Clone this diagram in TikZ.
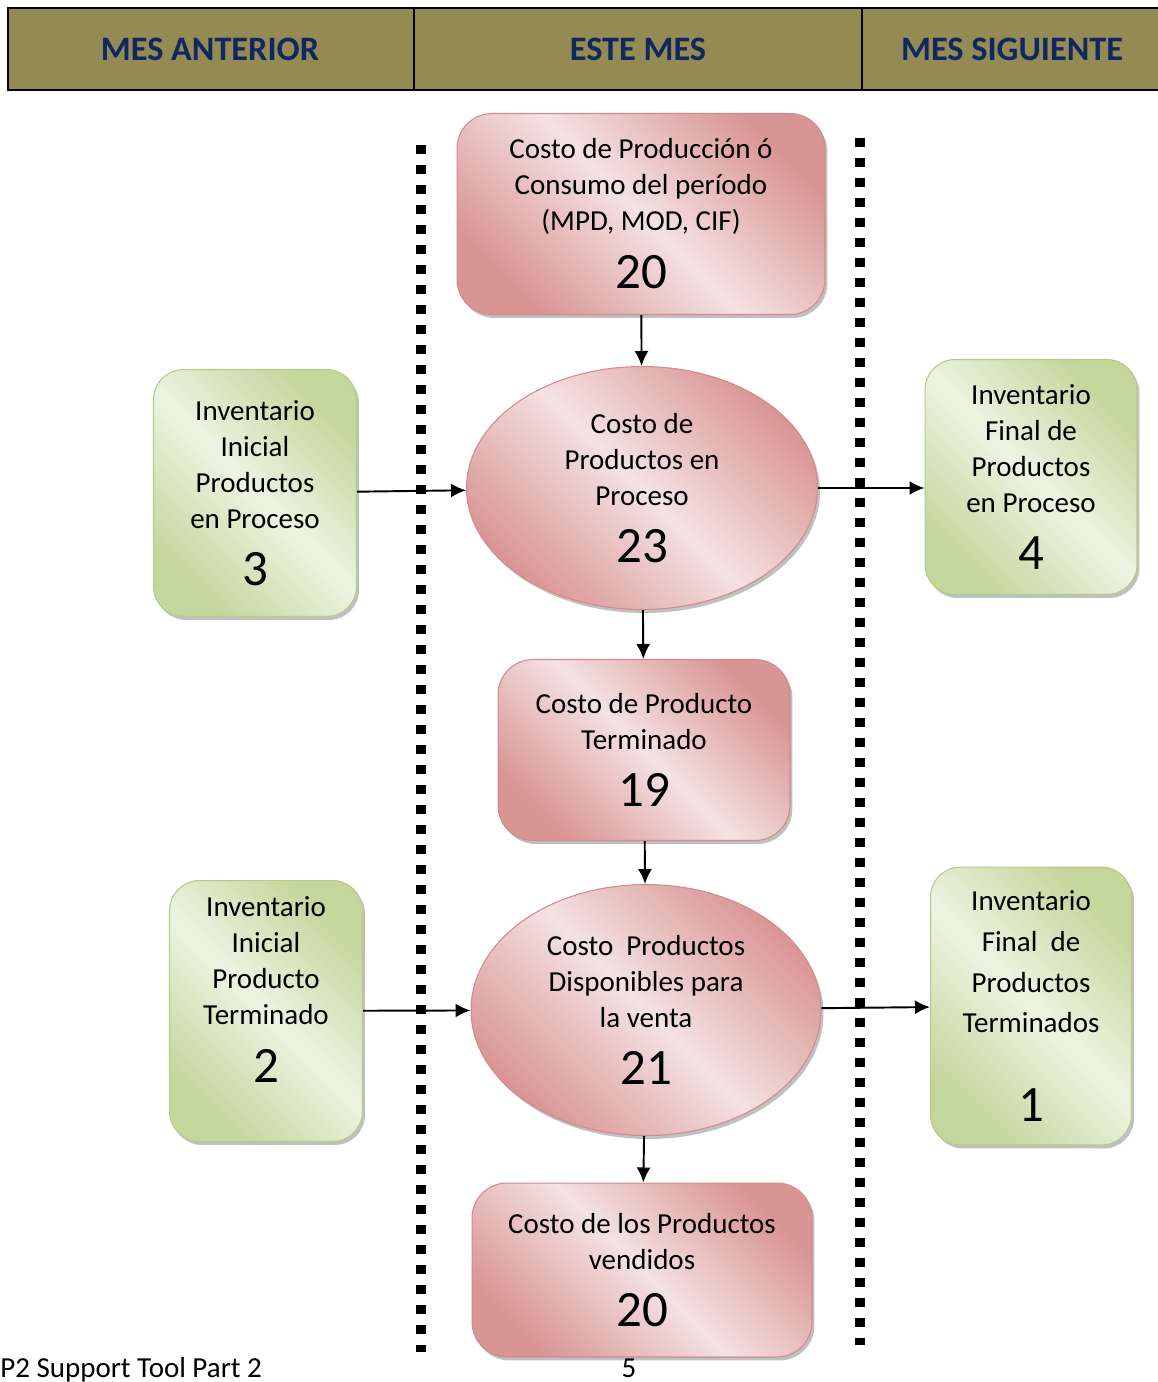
\documentclass[tikz,border=0pt]{standalone}
\usepackage{fontspec}
\setmainfont{Carlito}
\usepackage{tikz}
\usetikzlibrary{arrows.meta,shapes.geometric,shadows}

\definecolor{hdrolive}{HTML}{948A54}
\definecolor{hdrblue}{HTML}{10275F}
\definecolor{pinkdark}{HTML}{D99594}
\definecolor{pinklight}{HTML}{F4E2E2}
\definecolor{pinkedge}{HTML}{D28A8C}
\definecolor{greendark}{HTML}{C3D69B}
\definecolor{greenlight}{HTML}{EDF3E2}
\definecolor{greenedge}{HTML}{B5CC88}

\newcommand{\txtfont}{\fontsize{16.5}{20.5}\selectfont}
\newcommand{\numfont}{\fontsize{29}{32}\selectfont}

\tikzset{
  boxshadow/.style={drop shadow={shadow xshift=0.05cm,shadow yshift=-0.07cm,fill=black!45,opacity=0.55}},
  costbox/.style={rectangle,rounded corners=0.7cm,draw=pinkedge,line width=0.6pt,
    top color=pinkdark,bottom color=pinkdark,middle color=pinklight,shading angle=-45,
    boxshadow,align=center,font=\txtfont,inner sep=2pt},
  costell/.style={ellipse,draw=pinkedge,line width=0.6pt,
    top color=pinkdark,bottom color=pinkdark,middle color=pinklight,shading angle=-45,
    boxshadow,align=center,font=\txtfont,inner sep=0pt},
  invbox/.style={rectangle,rounded corners=0.6cm,draw=greenedge,line width=0.6pt,
    top color=greendark,bottom color=greendark,middle color=greenlight,shading angle=-45,
    boxshadow,align=center,font=\txtfont,inner sep=2pt},
  flow/.style={-{Latex[length=3mm,width=2.8mm]},line width=1.1pt},
  hdrtext/.style={font=\fontsize{19.5}{22}\selectfont\bfseries,text=hdrblue},
  dotline/.style={line width=0.19cm,dash pattern=on 0.19cm off 0.21cm}
}

\begin{document}
\begin{tikzpicture}[x=0.02cm,y=0.02cm]
\useasboundingbox (0,0) rectangle (1157,-1382);

% header
\draw[fill=hdrolive,line width=1.3pt] (8,-8) rectangle (1162,-90);
\draw[line width=1.1pt] (414,-8) -- (414,-90);
\draw[line width=1.1pt] (862,-8) -- (862,-90);
\node[hdrtext] (hdrant) at (210,-49) {MES ANTERIOR};
\node[hdrtext] (hdrest) at (638,-49) {ESTE MES};
\node[hdrtext] (hdrsig) at (1012,-49) {MES SIGUIENTE};

% separadores
\draw[dotline] (421,-145) -- (421,-1352);
\draw[dotline] (860,-138) -- (860,-1345);

% este mes
\node[costbox,minimum width=7.36cm,minimum height=4.02cm] (prod) at (641,-214)
  {Costo de Producción ó\\Consumo del período\\(MPD, MOD, CIF)\\[11pt]{\numfont 20}};
\node[costell,minimum width=7.02cm,minimum height=4.86cm] (proc) at (642,-488)
  {Costo de\\Productos en\\Proceso\\[12pt]{\numfont 23}};
\node[costbox,minimum width=5.84cm,minimum height=3.62cm] (term) at (644,-750)
  {Costo de Producto\\Terminado\\[12pt]{\numfont 19}};
\node[costell,minimum width=7.0cm,minimum height=5.02cm] (disp) at (646,-1010)
  {Costo\ \ Productos\\Disponibles para\\la venta\\[12pt]{\numfont 21}};
\node[costbox,minimum width=6.8cm,minimum height=3.48cm] (vend) at (642,-1270)
  {Costo de los Productos\\vendidos\\[12pt]{\numfont 20}};

% inventarios
\node[invbox,minimum width=4.06cm,minimum height=4.94cm] (iip) at (255,-493)
  {Inventario\\Inicial\\Productos\\en Proceso\\[12pt]{\numfont 3}};
\node[invbox,minimum width=4.24cm,minimum height=4.7cm] (ifp) at (1031,-477)
  {Inventario\\Final de\\Productos\\en Proceso\\[12pt]{\numfont 4}};
\node[invbox,minimum width=3.86cm,minimum height=5.22cm] (iipt) at (266,-1011)
  {Inventario\\Inicial\\Producto\\Terminado\\[12pt]{\numfont 2}\\[4pt]};
\node[invbox,minimum width=4.02cm,minimum height=5.56cm] (ifpt) at (1031,-1006)
  {Inventario\\[2.7pt]Final\ \ de\\[2.7pt]Productos\\[2.7pt]Terminados\\[30pt]{\numfont 1}};

% flechas
\draw[flow] (prod) -- (proc);
\draw[flow] (iip) -- (proc);
\draw[flow] (proc.east) -- (proc.east -| ifp.west);
\draw[flow] (proc) -- (term);
\draw[flow] (term) -- (disp);
\draw[flow] (iipt) -- (disp);
\draw[flow] (disp) -- (ifpt);
\draw[flow] (disp) -- (vend);

% pie
\node[font=\txtfont,anchor=base west,inner sep=0pt] (pie) at (0,-1377) {P2 Support Tool Part 2};
\node[font=\txtfont,anchor=base,inner sep=0pt] (pag) at (629,-1377) {5};
\end{tikzpicture}
\end{document}
